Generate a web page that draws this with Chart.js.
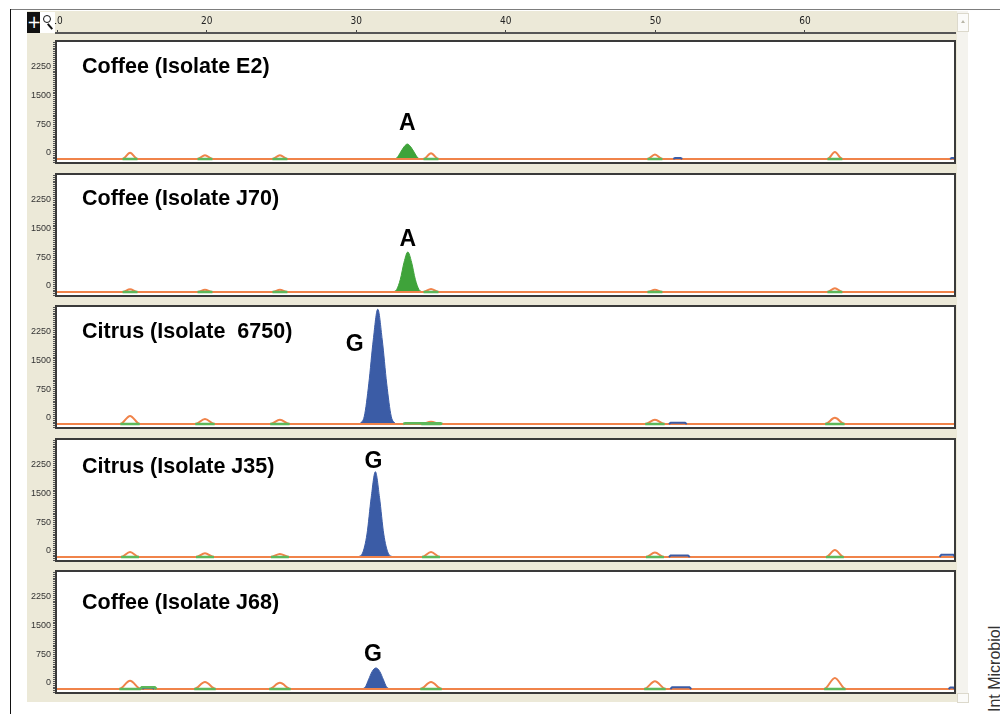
<!DOCTYPE html>
<html>
<head>
<meta charset="utf-8">
<title>SNaPshot electropherograms</title>
<script src="https://cdn.jsdelivr.net/npm/chart.js@4.4.1/dist/chart.umd.min.js"></script>
<style>
  html, body { margin: 0; padding: 0; background: #fff; }
  body { width: 1000px; height: 714px; position: relative; overflow: hidden; font-family: "Liberation Sans", Arial, sans-serif; }
  #topline { position: absolute; left: 10px; top: 9px; width: 990px; height: 1px; background: #7d7d7d; }
  #leftline { position: absolute; left: 10px; top: 9px; width: 1px; height: 705px; background: #111; }
  #window { position: absolute; left: 27px; top: 11px; width: 941px; height: 691px; background: #ece9d8; }
  canvas { position: absolute; }
  #btnCross { position: absolute; left: 27px; top: 12px; width: 13px; height: 21px; background: #111; color: #fff;
              font: 17px/21px "DejaVu Sans", sans-serif; text-align: center; }
  #btnZoom { position: absolute; left: 40px; top: 12px; width: 15px; height: 21px; background: #fff; }
  #btnZoom .lens { position: absolute; left: 3px; top: 3px; width: 6px; height: 6px; border: 1.5px solid #111; border-radius: 50%; }
  #btnZoom .handle { position: absolute; left: 9px; top: 11px; width: 2px; height: 7px; background: #111; transform: rotate(-40deg); }
  #scroll { position: absolute; left: 957px; top: 11px; width: 11px; height: 691px; background: #f4f3ee; }
  #scroll .btn { position: absolute; left: 0; width: 10px; background: #fbfbf9; border: 1px solid #dcd9cc; }
  #scroll .up { top: 2px; height: 17px; }
  #scroll .down { top: 682px; height: 8px; }
  #scroll .up::after { content: ""; position: absolute; left: 3px; top: 6px; border-left: 2px solid transparent;
                       border-right: 2px solid transparent; border-bottom: 3px solid #b9b6a8; }
  #credit { position: absolute; left: 987px; top: 712px; transform-origin: 0 0; transform: rotate(-90deg);
            font-size: 16px; line-height: 16px; white-space: nowrap; color: #333; }
</style>
</head>
<body>
<div id="topline"></div>
<div id="leftline"></div>
<div id="window"></div>
<canvas id="ruler" width="938" height="26" style="left:20px;top:11px"></canvas>
<div id="panels"></div>
<div id="btnCross">+</div>
<div id="btnZoom"><span class="lens"></span><span class="handle"></span></div>
<div id="scroll"><div class="btn up"></div><div class="btn down"></div></div>
<div id="credit">Int Microbiol</div>

<script>
// ======================
// DATA
// ======================

const rulerTicks = [10, 20, 30, 40, 50, 60];
const yLabelTicks = [0, 750, 1500, 2250];

const panelTitles = ['Coffee (Isolate E2)', 'Coffee (Isolate J70)', 'Citrus (Isolate  6750)', 'Citrus (Isolate J35)', 'Coffee (Isolate J68)'];
const alleleCalls = ['A', 'A', 'G', 'G', 'G'];
const alleleDyes = ['green', 'green', 'blue', 'blue', 'blue'];

// called SNP peak outlines: x in ruler units, y in RFU
const snpPeakX = [
  [32.52, 32.72, 32.97, 33.22, 33.42, 33.62, 33.87, 34.12, 34.32],
  [32.45, 32.7, 32.95, 33.2, 33.45, 33.7, 33.95, 34.2, 34.45],
  [30.24, 30.54, 30.84, 31.14, 31.44, 31.74, 32.04, 32.34, 32.64],
  [30.1, 30.42, 30.72, 31.0, 31.28, 31.56, 31.84, 32.14, 32.46],
  [30.42, 30.62, 30.82, 31.07, 31.32, 31.57, 31.82, 32.02, 32.22]
];
const snpPeakY = [
  [0, 30, 180, 330, 390, 330, 180, 30, 0],
  [0, 60, 330, 780, 1045, 780, 330, 60, 0],
  [0, 200, 1050, 2200, 3000, 2200, 1050, 200, 0],
  [0, 100, 600, 1550, 2230, 1550, 600, 100, 0],
  [0, 60, 240, 460, 550, 460, 240, 60, 0]
];

// orange size standard bumps
const sizeStdX = [14.88, 19.89, 24.9, 35.0, 49.97, 62.0];
const sizeStdY = [
  [160, 100, 100, 150, 120, 180],
  [70, 60, 60, 80, 60, 100],
  [210, 130, 110, 60, 110, 160],
  [130, 100, 80, 130, 115, 180],
  [215, 180, 160, 180, 200, 290]
];

// small flat blips: [start, end, height]
const blueBlips = [
  [[51.2, 51.8, 25], [69.7, 70.03, 25]],
  [],
  [[50.9, 52.1, 30]],
  [[50.9, 52.3, 40], [69.0, 70.03, 60]],
  [[15.7, 16.5, 30], [51.0, 52.4, 45], [69.6, 70.03, 40]]
];
const greenBlips = [
  [],
  [],
  [[33.15, 35.75, 20]],
  [],
  [[15.55, 16.65, 45]]
];

// ======================
// LAYOUT / STYLE
// ======================

const X_MIN = 9.93, X_MAX = 70.03;
const Y_MIN = -105, Y_MAX = 3085;
const PANEL_H = 122;
const PAD = 8;
const bumpHalfWidth = [0.5, 0.5, 0.65, 0.6, 0.72];
const titleBaseline = [32, 31, 32, 34, 38];
const labelShift = [[0, -14], [0, -6], [-23, 42], [-2, -4], [-3, -7]];
const COLORS = { orange: '#f0834a', green: '#3fa33a', greenLine: '#5db85a', blue: '#3b5ca6', frame: '#3a3a3a' };

function bumpTrace(xs, ys, hw) {
  const pts = [{ x: X_MIN, y: 0 }];
  xs.forEach((c, i) => pts.push({ x: c - hw, y: 0 }, { x: c, y: ys[i] }, { x: c + hw, y: 0 }));
  pts.push({ x: X_MAX, y: 0 });
  return pts;
}

function blipTrace(list, inset) {
  const pts = [];
  list.forEach(([s, e, h]) => {
    pts.push({ x: s, y: 0 }, { x: s + inset, y: h }, { x: e - inset, y: h }, { x: e, y: 0 }, { x: e + 0.01, y: null });
  });
  return pts;
}

// minor tick marks on the left axis
const minorTicks = [];
for (let v = -100; v <= 3050; v += 50) minorTicks.push({ value: v });

const panelDecor = {
  id: 'panelDecor',
  beforeDraw(chart) {
    const a = chart.chartArea, ctx = chart.ctx;
    ctx.save();
    ctx.fillStyle = '#fff';
    ctx.fillRect(a.left, a.top, a.right - a.left, a.bottom - a.top);
    ctx.restore();
  },
  afterDraw(chart, args, opts) {
    const a = chart.chartArea, ctx = chart.ctx;
    ctx.save();
    ctx.strokeStyle = COLORS.frame;
    ctx.lineWidth = 2;
    ctx.strokeRect(a.left, a.top, a.right - a.left, a.bottom - a.top);

    ctx.fillStyle = '#000';
    ctx.textBaseline = 'alphabetic';
    ctx.font = 'bold 21.5px "Liberation Sans", Arial, sans-serif';
    ctx.textAlign = 'left';
    ctx.fillText(opts.title, a.left + 26, a.top + opts.titleY);

    // allele call above its peak
    const xs = chart.scales.x, ys = chart.scales.y;
    const px = xs.getPixelForValue(opts.peakX), py = ys.getPixelForValue(opts.peakY);
    ctx.font = 'bold 23px "Liberation Sans", Arial, sans-serif';
    ctx.textAlign = 'center';
    ctx.fillText(opts.allele, px + opts.shift[0], py + opts.shift[1]);
    ctx.restore();
  }
};

// ======================
// RULER
// ======================

new Chart(document.getElementById('ruler'), {
  type: 'line',
  data: { datasets: [] },
  options: {
    responsive: false,
    animation: false,
    layout: { padding: { top: 0, bottom: 0, left: 0, right: 3 } },
    plugins: { legend: { display: false }, tooltip: { enabled: false } },
    scales: {
      x: {
        type: 'linear', position: 'top', min: X_MIN, max: X_MAX,
        afterFit: s => { s.height = 22; },
        afterBuildTicks: s => { s.ticks = rulerTicks.map(v => ({ value: v })); },
        ticks: { autoSkip: false, maxRotation: 0, padding: 3, color: '#222',
                 font: { family: '"Liberation Sans Narrow", "DejaVu Sans Condensed", sans-serif', size: 10 } },
        grid: { drawOnChartArea: false, tickLength: 3, color: '#444', lineWidth: 1 },
        border: { display: true, color: '#555', width: 2 }
      },
      y: {
        afterFit: s => { s.width = 36; },
        ticks: { display: false }, grid: { display: false }, border: { display: false }
      }
    }
  }
});

// ======================
// PANELS
// ======================

const holder = document.getElementById('panels');

panelTitles.forEach((title, k) => {
  const top = Math.round(41 + 132.5 * k);
  const cv = document.createElement('canvas');
  cv.width = 938;
  cv.height = PANEL_H + 2 * PAD;
  cv.style.left = '20px';
  cv.style.top = (top - PAD) + 'px';
  holder.appendChild(cv);

  const hw = bumpHalfWidth[k];
  const peakPts = snpPeakX[k].map((x, i) => ({ x, y: snpPeakY[k][i] }));
  const peakTop = Math.max(...snpPeakY[k]);
  const peakCentre = snpPeakX[k][snpPeakY[k].indexOf(peakTop)];
  const dye = COLORS[alleleDyes[k]];

  new Chart(cv, {
    type: 'line',
    data: {
      datasets: [
        { // green bin marks under the size standard + small green blips
          data: blipTrace(sizeStdX.map(c => [c - hw, c + hw, 0]), 0).concat(blipTrace(greenBlips[k], 0.12)),
          borderColor: COLORS.greenLine, borderWidth: 2.5, pointRadius: 0, spanGaps: false, order: 0
        },
        {
          data: blipTrace(blueBlips[k], 0.12),
          borderColor: COLORS.blue, borderWidth: 2, pointRadius: 0, spanGaps: false, order: 1
        },
        {
          data: bumpTrace(sizeStdX, sizeStdY[k], hw),
          borderColor: COLORS.orange, borderWidth: 2, pointRadius: 0,
          cubicInterpolationMode: 'monotone', order: 2
        },
        {
          data: peakPts,
          borderColor: dye, backgroundColor: dye, borderWidth: 1, pointRadius: 0,
          fill: 'origin', cubicInterpolationMode: 'monotone', order: 3
        }
      ]
    },
    options: {
      responsive: false,
      animation: false,
      layout: { padding: { top: PAD, bottom: PAD, left: 0, right: 3 } },
      plugins: {
        legend: { display: false },
        tooltip: { enabled: false },
        panelDecor: {
          title, titleY: titleBaseline[k], allele: alleleCalls[k],
          peakX: peakCentre, peakY: peakTop, shift: labelShift[k]
        }
      },
      scales: {
        x: { type: 'linear', min: X_MIN, max: X_MAX, display: false },
        y: {
          type: 'linear', min: Y_MIN, max: Y_MAX,
          afterFit: s => { s.width = 36; },
          afterBuildTicks: s => { s.ticks = minorTicks.map(t => ({ value: t.value })); },
          ticks: {
            autoSkip: false, labelOffset: -6, padding: 2, color: '#333',
            font: { family: '"Liberation Sans", Arial, sans-serif', size: 9 },
            callback: v => yLabelTicks.includes(v) ? String(v) : ''
          },
          grid: { drawOnChartArea: false, drawTicks: true, tickLength: 3, color: '#555', lineWidth: 1 },
          border: { display: false }
        }
      }
    },
    plugins: [panelDecor]
  });
});
</script>
</body>
</html>
